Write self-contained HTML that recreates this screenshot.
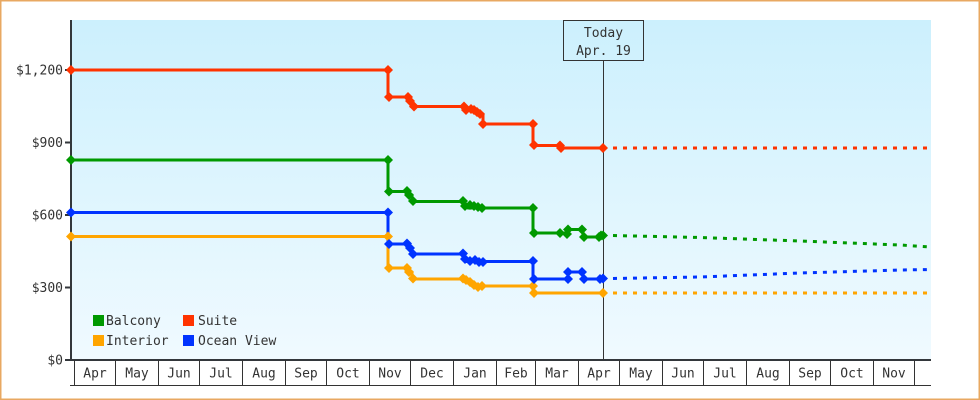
<!DOCTYPE html>
<html><head><meta charset="utf-8"><style>
html,body{margin:0;padding:0;background:#fff;}
svg{display:block;}
text{font-family:"DejaVu Sans Mono","Liberation Mono",monospace;font-size:13px;fill:#333;}
</style></head><body>
<svg width="980" height="400" viewBox="0 0 980 400" xmlns="http://www.w3.org/2000/svg">
<defs>
<linearGradient id="bg" x1="0" y1="0" x2="0" y2="1">
<stop offset="0" stop-color="#ccf0fd"/>
<stop offset="1" stop-color="#f0faff"/>
</linearGradient>
<polygon id="d" points="0,-5 5,0 0,5 -5,0"/>
</defs>
<rect x="0" y="0" width="980" height="400" fill="#fff"/>
<rect x="71" y="20" width="860" height="340" fill="url(#bg)"/>

<!-- today box and line -->
<rect x="563.5" y="20.5" width="80" height="40" fill="none" stroke="#333" stroke-width="1"/>
<text x="603.5" y="37" text-anchor="middle">Today</text>
<text x="603.5" y="55" text-anchor="middle">Apr. 19</text>
<line x1="603.5" y1="61" x2="603.5" y2="360" stroke="#333" stroke-width="1"/>

<!-- y axis -->
<line x1="71" y1="20" x2="71" y2="361" stroke="#33373b" stroke-width="2"/>
<g stroke="#33373b" stroke-width="2">
<line x1="65" y1="360" x2="71" y2="360"/>
<line x1="65" y1="287.5" x2="71" y2="287.5"/>
<line x1="65" y1="215" x2="71" y2="215"/>
<line x1="65" y1="142.5" x2="71" y2="142.5"/>
<line x1="65" y1="70" x2="71" y2="70"/>
</g>
<g text-anchor="end">
<text x="63" y="364.5">$0</text>
<text x="63" y="292">$300</text>
<text x="63" y="219.5">$600</text>
<text x="63" y="147">$900</text>
<text x="63" y="74.5">$1,200</text>
</g>

<!-- x axis band -->
<line x1="70" y1="360" x2="931" y2="360" stroke="#33373b" stroke-width="2"/>
<line x1="70" y1="385.5" x2="931" y2="385.5" stroke="#333" stroke-width="1"/>
<g stroke="#333" stroke-width="1">
<line x1="74.5" y1="360" x2="74.5" y2="385"/>
<line x1="115.5" y1="360" x2="115.5" y2="385"/>
<line x1="158.5" y1="360" x2="158.5" y2="385"/>
<line x1="199.5" y1="360" x2="199.5" y2="385"/>
<line x1="242.5" y1="360" x2="242.5" y2="385"/>
<line x1="285.5" y1="360" x2="285.5" y2="385"/>
<line x1="326.5" y1="360" x2="326.5" y2="385"/>
<line x1="369.5" y1="360" x2="369.5" y2="385"/>
<line x1="410.5" y1="360" x2="410.5" y2="385"/>
<line x1="453.5" y1="360" x2="453.5" y2="385"/>
<line x1="496.5" y1="360" x2="496.5" y2="385"/>
<line x1="535.5" y1="360" x2="535.5" y2="385"/>
<line x1="578.5" y1="360" x2="578.5" y2="385"/>
<line x1="619.5" y1="360" x2="619.5" y2="385"/>
<line x1="662.5" y1="360" x2="662.5" y2="385"/>
<line x1="703.5" y1="360" x2="703.5" y2="385"/>
<line x1="746.5" y1="360" x2="746.5" y2="385"/>
<line x1="789.5" y1="360" x2="789.5" y2="385"/>
<line x1="830.5" y1="360" x2="830.5" y2="385"/>
<line x1="873.5" y1="360" x2="873.5" y2="385"/>
<line x1="914.5" y1="360" x2="914.5" y2="385"/>
</g>
<g text-anchor="middle">
<text x="95" y="377.5">Apr</text>
<text x="137" y="377.5">May</text>
<text x="179" y="377.5">Jun</text>
<text x="221" y="377.5">Jul</text>
<text x="264" y="377.5">Aug</text>
<text x="306" y="377.5">Sep</text>
<text x="348" y="377.5">Oct</text>
<text x="390" y="377.5">Nov</text>
<text x="432" y="377.5">Dec</text>
<text x="475" y="377.5">Jan</text>
<text x="516" y="377.5">Feb</text>
<text x="557" y="377.5">Mar</text>
<text x="599" y="377.5">Apr</text>
<text x="641" y="377.5">May</text>
<text x="683" y="377.5">Jun</text>
<text x="725" y="377.5">Jul</text>
<text x="768" y="377.5">Aug</text>
<text x="810" y="377.5">Sep</text>
<text x="852" y="377.5">Oct</text>
<text x="894" y="377.5">Nov</text>
</g>

<!-- projections (dotted) -->
<g fill="none" stroke-width="3" stroke-dasharray="4 6">
<line x1="613" y1="148" x2="931" y2="148" stroke="#ff3300"/>
<polyline points="613,235.5 700,237.5 800,241 900,245 931,247" stroke="#009900"/>
<polyline points="613,278.5 700,277 800,273 900,270 931,269.5" stroke="#0033ff"/>
<line x1="613" y1="293" x2="931" y2="293" stroke="#ffa500"/>
</g>

<!-- solid series -->
<g fill="none" stroke-width="3" stroke-linejoin="round">
<polyline stroke="#ffa500" points="71,236.5 388,236.5 388,268 408,268 408,272 412,272 412,279 463,279 463,281 468,281 468,283 472,283 472,286 533,286 533,293 603,293"/>
<polyline stroke="#0033ff" points="71,212.5 388,212.5 388,244 408,244 408,248 412,248 412,254 463,254 463,258 466,258 466,261.5 533,261.5 533,279 568,279 568,272 583,272 583,279 603,279"/>
<polyline stroke="#009900" points="71,160 388,160 388,191.5 408,191.5 408,195 412,195 412,201.5 463,201.5 463,205 468,205 468,208 533,208 533,233 567.5,233 567.5,229.5 583,229.5 583,237 600,237 600,235.5 603,235.5"/>
<polyline stroke="#ff3300" points="71,70 388,70 388,97 408,97 408,101 411,101 411,106.5 464,106.5 464,110 470,110 470,109 475,109 475,112 479,112 479,114 483,114 483,124 533,124 533,145.5 560,145.5 560,148 603,148"/>
</g>

<!-- markers -->
<g fill="#ffa500">
<use href="#d" x="71" y="236.5"/><use href="#d" x="388" y="236.5"/><use href="#d" x="389" y="268"/>
<use href="#d" x="407" y="268"/><use href="#d" x="409" y="272"/><use href="#d" x="413" y="278.5"/>
<use href="#d" x="463" y="278.5"/><use href="#d" x="466" y="280"/><use href="#d" x="470" y="282"/>
<use href="#d" x="474" y="285"/><use href="#d" x="478" y="287"/><use href="#d" x="482" y="286"/>
<use href="#d" x="533" y="286"/><use href="#d" x="534" y="293"/><use href="#d" x="603" y="293"/>
</g>
<g fill="#0033ff">
<use href="#d" x="71" y="212.5"/><use href="#d" x="388" y="212.5"/><use href="#d" x="389" y="244"/>
<use href="#d" x="407" y="243.5"/><use href="#d" x="410" y="248"/><use href="#d" x="413" y="254"/>
<use href="#d" x="463" y="253.5"/><use href="#d" x="465" y="259"/><use href="#d" x="470" y="261"/>
<use href="#d" x="475" y="260"/><use href="#d" x="479" y="262"/><use href="#d" x="483" y="262"/>
<use href="#d" x="533" y="261"/><use href="#d" x="534" y="279"/><use href="#d" x="568" y="279"/>
<use href="#d" x="568" y="272"/><use href="#d" x="582" y="272"/><use href="#d" x="584" y="279"/>
<use href="#d" x="600" y="279"/><use href="#d" x="603" y="278.5"/>
</g>
<g fill="#009900">
<use href="#d" x="71" y="160"/><use href="#d" x="388" y="160"/><use href="#d" x="389" y="191.5"/>
<use href="#d" x="407" y="191"/><use href="#d" x="409" y="195"/><use href="#d" x="413" y="201"/>
<use href="#d" x="463" y="201"/><use href="#d" x="465" y="206"/><use href="#d" x="470" y="205"/>
<use href="#d" x="474" y="206"/><use href="#d" x="478" y="207"/><use href="#d" x="482" y="208"/>
<use href="#d" x="533" y="208"/><use href="#d" x="534" y="233"/><use href="#d" x="560" y="233"/>
<use href="#d" x="567" y="234"/><use href="#d" x="568" y="229.5"/><use href="#d" x="582" y="229.5"/>
<use href="#d" x="584" y="237"/><use href="#d" x="599" y="237"/><use href="#d" x="601" y="235.5"/>
<use href="#d" x="603" y="235.5"/>
</g>
<g fill="#ff3300">
<use href="#d" x="71" y="70"/><use href="#d" x="388" y="70"/><use href="#d" x="389" y="97"/>
<use href="#d" x="408" y="97"/><use href="#d" x="410" y="101"/><use href="#d" x="414" y="106.5"/>
<use href="#d" x="464" y="106.5"/><use href="#d" x="466" y="110"/><use href="#d" x="471" y="109"/>
<use href="#d" x="474" y="110"/><use href="#d" x="477" y="112"/><use href="#d" x="480" y="114"/>
<use href="#d" x="483" y="124"/><use href="#d" x="533" y="124"/><use href="#d" x="534" y="145"/>
<use href="#d" x="560" y="145.5"/><use href="#d" x="561" y="148"/><use href="#d" x="603" y="148"/>
</g>

<!-- legend -->
<rect x="93" y="315" width="11" height="11" fill="#009900"/>
<text x="106" y="325">Balcony</text>
<rect x="183" y="315" width="11" height="11" fill="#ff3300"/>
<text x="198" y="325">Suite</text>
<rect x="93" y="335" width="11" height="11" fill="#ffa500"/>
<text x="106" y="345">Interior</text>
<rect x="183" y="335" width="11" height="11" fill="#0033ff"/>
<text x="198" y="345">Ocean View</text>

<!-- outer border -->
<rect x="0.75" y="0.75" width="978.5" height="398.5" fill="none" stroke="#e8a862" stroke-width="1.5"/>
</svg>
</body></html>
